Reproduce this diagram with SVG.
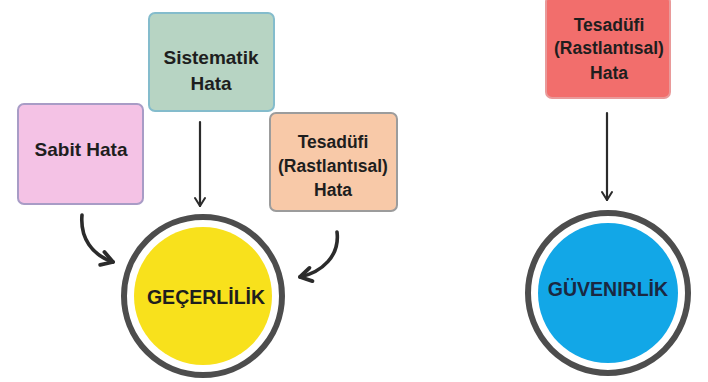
<svg xmlns="http://www.w3.org/2000/svg" width="708" height="382" viewBox="0 0 708 382">
<defs>
<marker id="thin" viewBox="0 0 12 12" refX="10" refY="6" markerWidth="12" markerHeight="12" markerUnits="userSpaceOnUse" orient="auto">
<path d="M2,1 L10,6 L2,11" fill="none" stroke="#2b2b2b" stroke-width="2" stroke-linecap="round" stroke-linejoin="round"/>
</marker>
<marker id="thick" viewBox="0 0 16 16" refX="13" refY="8" markerWidth="18" markerHeight="18" markerUnits="userSpaceOnUse" orient="auto">
<path d="M3,2 L13,8 L3,14" fill="none" stroke="#2b2b2b" stroke-width="3.4" stroke-linecap="round" stroke-linejoin="round"/>
</marker>
</defs>
<style>
.box{stroke-width:2}
.t{font-family:"Liberation Sans",Arial,sans-serif;font-weight:bold;fill:#1e1e1e;text-anchor:middle;dominant-baseline:central}
.ring{fill:#fff;stroke:#4d4d4d;stroke-width:6}
.conn{fill:none;stroke:#2b2b2b;stroke-linecap:round}
</style>
<rect width="708" height="382" fill="#ffffff"/>
<g id="sabit">
<rect class="box" x="18" y="104" width="125" height="100" rx="6" fill="#f4c2e5" stroke="#a89cc6"/>
<text class="t" x="81" y="149" font-size="19">Sabit Hata</text>
</g>
<g id="sistematik">
<rect class="box" x="149" y="13" width="125" height="98" rx="6" fill="#b7d4c3" stroke="#84bccc"/>
<text class="t" x="211" y="57" font-size="19">Sistematik</text>
<text class="t" x="211" y="83" font-size="19">Hata</text>
</g>
<g id="tesadufi1">
<rect class="box" x="270" y="113" width="127" height="98" rx="6" fill="#f8c9a8" stroke="#9c9c9c"/>
<text class="t" x="333" y="142" font-size="17.5">Tesadüfi</text>
<text class="t" x="333" y="166" font-size="17.5">(Rastlantısal)</text>
<text class="t" x="333" y="190" font-size="17.5">Hata</text>
</g>
<g id="gecerlilik">
<circle class="ring" cx="203" cy="296" r="79"/>
<circle cx="203" cy="296" r="69" fill="#f8e11c"/>
<text class="t" x="206" y="297" font-size="19.5">GEÇERLİLİK</text>
</g>
<g id="tesadufi2">
<rect class="box" x="546" y="-4" width="124" height="102" rx="6" fill="#f26e6c" stroke="#e99a9a"/>
<text class="t" x="609" y="25" font-size="17.5">Tesadüfi</text>
<text class="t" x="609" y="48" font-size="17.5">(Rastlantısal)</text>
<text class="t" x="609" y="73" font-size="17.5">Hata</text>
</g>
<g id="guvenirlik">
<circle class="ring" cx="608" cy="293" r="80"/>
<circle cx="608" cy="293" r="70" fill="#12a7e7"/>
<text class="t" x="608" y="289" font-size="19.5" style="fill:#1a2842">GÜVENIRLİK</text>
</g>
<g id="connectors">
<path class="conn" d="M200,122 L200,206" stroke-width="2.2" marker-end="url(#thin)"/>
<path class="conn" d="M607,113 L607,200" stroke-width="2.2" marker-end="url(#thin)"/>
<path class="conn" d="M82,215 C80,238 92,255 113,262" stroke-width="3.6" marker-end="url(#thick)"/>
<path class="conn" d="M337,232 C340,256 322,272 300,277" stroke-width="3.6" marker-end="url(#thick)"/>
</g>
</svg>
